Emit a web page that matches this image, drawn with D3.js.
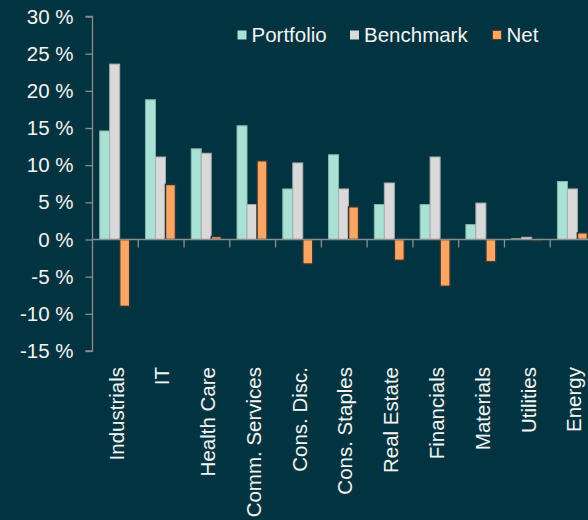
<!DOCTYPE html>
<html lang="en">
<head>
<meta charset="UTF-8">
<title>Sector weights</title>
<script src="https://d3js.org/d3.v7.min.js"></script>
<style>
  html, body { margin: 0; padding: 0; background: #013440; }
  svg { display: block; }
</style>
</head>
<body>
<svg></svg>
<script>
// chart values
const categories = ["Industrials", "IT", "Health Care", "Comm. Services", "Cons. Disc.",
  "Cons. Staples", "Real Estate", "Financials", "Materials", "Utilities", "Energy"];
const seriesNames = ["Portfolio", "Benchmark", "Net"];
const portfolio = [14.6, 18.8, 12.2, 15.3, 6.8, 11.4, 4.7, 4.7, 2.0, 0.1, 7.8];
const benchmark = [23.6, 11.1, 11.6, 4.7, 10.3, 6.8, 7.6, 11.1, 4.9, 0.3, 6.8];
const net = [-9.0, 7.4, 0.4, 10.6, -3.3, 4.4, -2.8, -6.3, -3.0, -0.2, 0.9];
const yTicks = [-15, -10, -5, 0, 5, 10, 15, 20, 25, 30];

const width = 588, height = 520;
const font = "'Liberation Sans', Arial, sans-serif";
const fill = {Portfolio: "#a8e2d4", Benchmark: "#d9d9d9", Net: "#f9a664"};
const edge = {Portfolio: "#86b5aa", Benchmark: "#aeaeae", Net: "#333333"};

const svg = d3.select("svg").attr("width", width).attr("height", height);

const x = d3.scaleBand().domain(categories).range([92.5, 596]);
const xs = d3.scaleBand().domain(seriesNames).range([7.2, 37.2]);
const y = d3.scaleLinear().domain([-15, 30]).range([351, 16.5]);

const rows = categories.map((c, i) => ({
  cat: c,
  vals: [
    {s: "Portfolio", v: portfolio[i]},
    {s: "Benchmark", v: benchmark[i]},
    {s: "Net", v: net[i]}
  ]
}));

// bars
const g = svg.append("g").selectAll("g")
  .data(rows).join("g")
  .attr("transform", d => `translate(${x(d.cat)},0)`);

g.selectAll("rect")
  .data(d => d.vals).join("rect")
  .attr("x", d => xs(d.s))
  .attr("width", xs.bandwidth())
  .attr("y", d => y(Math.max(0, d.v)))
  .attr("height", d => Math.abs(y(d.v) - y(0)))
  .attr("fill", d => fill[d.s])
  .attr("stroke", d => edge[d.s])
  .attr("stroke-width", d => d.s === "Net" ? 1.5 : 1);

// y axis
const yAxis = svg.append("g")
  .attr("transform", "translate(92.5,0)")
  .call(d3.axisLeft(y).tickValues(yTicks).tickSize(7).tickPadding(12)
    .tickFormat(d => d + " %"));
yAxis.selectAll("path, line").attr("stroke", "#8c8c8c").attr("stroke-width", 1.3);
yAxis.select(".domain").attr("d", `M-7,${y(30)}H0V${y(-15)}H-7`);
yAxis.selectAll("text")
  .attr("fill", "#f4f4f4")
  .attr("font-family", font)
  .attr("font-size", 20.5);

// zero line with category ticks
const zero = svg.append("g").attr("transform", `translate(0,${y(0)})`);
zero.append("line")
  .attr("x1", 92.5).attr("x2", width)
  .attr("stroke", "#8c8c8c").attr("stroke-width", 1.3);
zero.selectAll("line.tick")
  .data(categories.slice(1)).join("line")
  .attr("class", "tick")
  .attr("x1", d => x(d)).attr("x2", d => x(d))
  .attr("y1", 0).attr("y2", 8)
  .attr("stroke", "#8c8c8c").attr("stroke-width", 1.3);

// category labels
svg.append("g").selectAll("text")
  .data(categories).join("text")
  .attr("transform", d => `translate(${x(d) + x.bandwidth() / 2 + 1},367) rotate(-90)`)
  .attr("text-anchor", "end")
  .attr("dy", "0.35em")
  .attr("fill", "#f4f4f4")
  .attr("font-family", font)
  .attr("font-size", 20.5)
  .text(d => d);

// legend
const legendX = [237.5, 350, 492.5];
const legend = svg.append("g").selectAll("g")
  .data(seriesNames).join("g")
  .attr("transform", (d, i) => `translate(${legendX[i]},30.5)`);
legend.append("rect")
  .attr("width", 9).attr("height", 9)
  .attr("fill", d => fill[d])
  .attr("stroke", d => d === "Net" ? "#5a3a20" : "none")
  .attr("stroke-width", 1);
legend.append("text")
  .attr("x", 14).attr("y", 11)
  .attr("fill", "#f4f4f4")
  .attr("font-family", font)
  .attr("font-size", 20.5)
  .text(d => d);
</script>
</body>
</html>
